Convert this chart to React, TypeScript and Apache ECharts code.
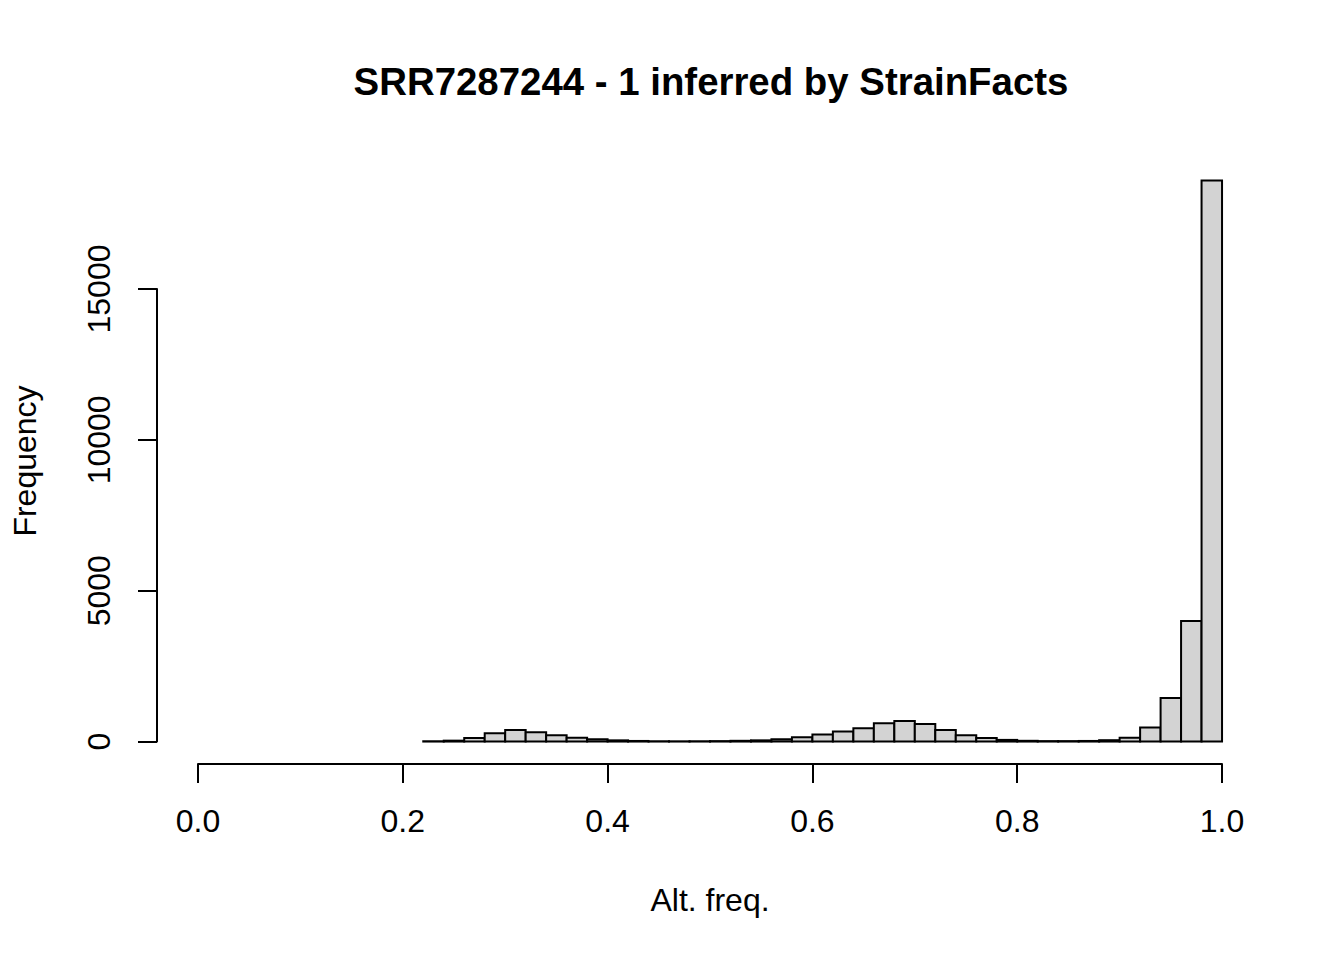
import { useEffect, useRef } from 'react'
import * as echarts from 'echarts'

// histogram bins (lower edge, width 0.02) and counts
const binStarts = [
  0.22, 0.24, 0.26, 0.28, 0.3, 0.32, 0.34, 0.36, 0.38, 0.4, 0.42, 0.44, 0.46,
  0.48, 0.5, 0.52, 0.54, 0.56, 0.58, 0.6, 0.62, 0.64, 0.66, 0.68, 0.7, 0.72,
  0.74, 0.76, 0.78, 0.8, 0.82, 0.84, 0.86, 0.88, 0.9, 0.92, 0.94, 0.96, 0.98,
]
const binWidth = 0.02
const counts = [
  10, 30, 120, 275, 380, 310, 210, 130, 75, 40, 20, 10, 8, 10, 15, 25, 40, 80,
  145, 230, 330, 445, 610, 685, 585, 385, 210, 120, 55, 25, 15, 15, 20, 45,
  130, 465, 1440, 4000, 18600,
]
const xTicks = [0, 0.2, 0.4, 0.6, 0.8, 1.0]
const yTicks = [0, 5000, 10000, 15000]

const titleText = 'SRR7287244 - 1 inferred by StrainFacts'
const xLabel = 'Alt. freq.'
const yLabel = 'Frequency'

const FONT = '"Liberation Sans", Arial, Helvetica, sans-serif'

export default function App() {
  const chartRef = useRef<HTMLDivElement | null>(null)

  useEffect(() => {
    if (!chartRef.current) {
      return
    }
    const chart = echarts.init(chartRef.current, undefined, { renderer: 'svg' })

    const maxCount = Math.max(...counts)
    const yPad = maxCount * 0.04
    // R extends the plot region 4% on each side
    const xMinData = 0 - 0.04
    const xMaxData = 1 + 0.04

    const axisLineStyle = { color: '#000', width: 2 }

    chart.setOption({
      animation: false,
      backgroundColor: '#fff',
      textStyle: { fontFamily: FONT },
      title: {
        text: titleText,
        left: 706,
        top: 57,
        textAlign: 'center',
        textStyle: {
          fontFamily: FONT,
          fontSize: 38.4,
          fontWeight: 'bold',
          color: '#000',
        },
      },
      grid: [
        // data region
        { left: 157, right: 81, top: 158, bottom: 196 },
        // x axis (0..1)
        { left: 198, right: 122, top: 158, bottom: 196 },
        // y axis (0..15000)
        { left: 157, right: 81, top: 289, bottom: 218.4 },
      ],
      xAxis: [
        {
          gridIndex: 0,
          type: 'value',
          min: xMinData,
          max: xMaxData,
          show: false,
        },
        {
          gridIndex: 1,
          type: 'value',
          min: xTicks[0],
          max: xTicks[xTicks.length - 1],
          interval: 0.2,
          position: 'bottom',
          name: xLabel,
          nameLocation: 'middle',
          nameGap: 120,
          nameTextStyle: { fontFamily: FONT, fontSize: 32, color: '#000' },
          axisLine: { show: true, lineStyle: axisLineStyle },
          axisTick: { show: true, inside: false, length: 19, lineStyle: axisLineStyle },
          axisLabel: {
            show: true,
            margin: 41,
            fontFamily: FONT,
            fontSize: 32,
            color: '#000',
            formatter: (v: number) => v.toFixed(1),
          },
          splitLine: { show: false },
        },
        {
          gridIndex: 2,
          type: 'value',
          min: 0,
          max: 1,
          show: false,
        },
      ],
      yAxis: [
        {
          gridIndex: 0,
          type: 'value',
          min: -yPad,
          max: maxCount + yPad,
          name: yLabel,
          nameLocation: 'middle',
          nameGap: 116,
          nameTextStyle: { fontFamily: FONT, fontSize: 32, color: '#000' },
          axisLine: { show: false },
          axisTick: { show: false },
          axisLabel: { show: false },
          splitLine: { show: false },
        },
        {
          gridIndex: 1,
          type: 'value',
          min: 0,
          max: 1,
          show: false,
        },
        {
          gridIndex: 2,
          type: 'value',
          min: yTicks[0],
          max: yTicks[yTicks.length - 1],
          interval: 5000,
          position: 'left',
          axisLine: { show: true, lineStyle: axisLineStyle },
          axisTick: { show: true, inside: false, length: 19, lineStyle: axisLineStyle },
          axisLabel: {
            show: true,
            rotate: 90,
            margin: 42,
            fontFamily: FONT,
            fontSize: 32,
            color: '#000',
            formatter: (v: number) => String(v),
          },
          splitLine: { show: false },
        },
      ],
      series: [
        {
          type: 'custom',
          xAxisIndex: 0,
          yAxisIndex: 0,
          encode: { x: [0, 1], y: 2 },
          data: binStarts.map((b, i) => [b, b + binWidth, counts[i]]),
          renderItem: (_params: any, api: any) => {
            const p0 = api.coord([api.value(0), api.value(2)])
            const p1 = api.coord([api.value(1), 0])
            return {
              type: 'rect',
              shape: {
                x: p0[0],
                y: p0[1],
                width: p1[0] - p0[0],
                height: p1[1] - p0[1],
              },
              style: { fill: '#d3d3d3', stroke: '#000', lineWidth: 2 },
            }
          },
        },
      ],
    })

    return () => {
      chart.dispose()
    }
  }, [])

  return (
    <div
      ref={chartRef}
      style={{ position: 'absolute', left: 0, top: 0, width: 1344, height: 960 }}
    />
  )
}
